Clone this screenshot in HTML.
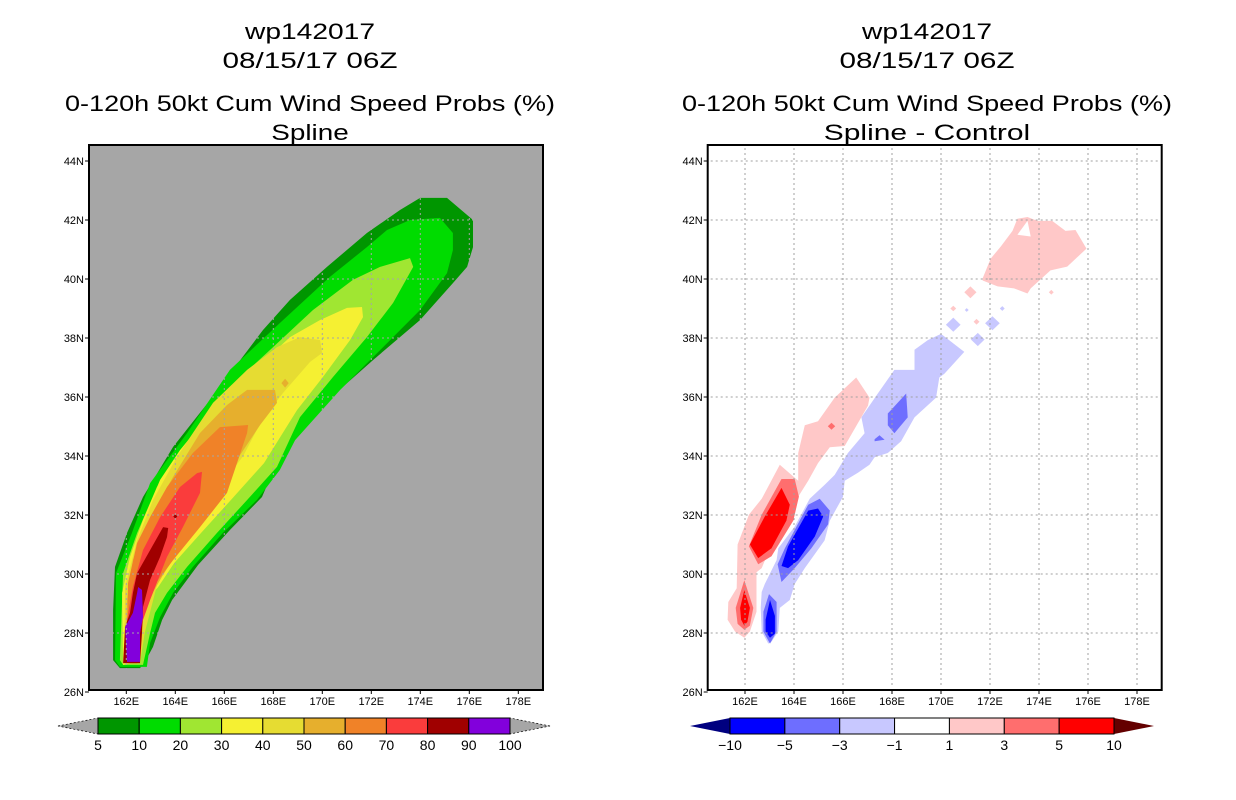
<!DOCTYPE html>
<html><head><meta charset="utf-8"><style>
html,body{margin:0;padding:0;background:#fff;}
svg{display:block;font-family:"Liberation Sans",sans-serif;}
</style></head><body>
<svg id="chart" width="1236" height="800" viewBox="0 0 1236 800"></svg>
<script>
// ---------- data ----------
const latTicks = [26,28,30,32,34,36,38,40,42,44];
const lonTicks = [162,164,166,168,170,172,174,176,178];
const leftLevels = ["5","10","20","30","40","50","60","70","80","90","100"];
const leftColors = ["#009600","#00dc00","#a0e632","#f5f032","#e6dc32","#e6af2d","#f08228","#fa3c3c","#a00000","#8200dc"];
const rightLevels = ["-10","-5","-3","-1","1","3","5","10"];
const rightColors = ["#0000ff","#6e6eff","#c8c8ff","#ffffff","#ffc8c8","#ff6e6e","#ff0000"];
// Left panel contour bands [lon,lat]
const band5 = [[161.74,26.81],[161.46,27.08],[161.46,28.78],[161.54,30.24],[162.03,31.39],[162.68,32.61],[163.91,34.31],[165.42,35.90],[167.58,38.27],[168.68,39.29],[170.19,40.41],[171.82,41.56],[173.17,42.34],[173.99,42.75],[175.09,42.75],[176.15,42.0],[176.15,41.08],[175.91,40.41],[175.33,39.86],[173.99,38.61],[172.07,37.25],[169.91,35.66],[168.48,34.44],[167.54,32.61],[166.23,31.49],[164.93,30.31],[163.87,29.12],[163.46,28.44],[163.09,27.53],[162.76,27.02],[162.56,26.81]];
const band10 = [[161.74,26.85],[161.54,27.08],[161.58,30.03],[162.23,31.39],[162.97,33.08],[164.48,34.78],[166.23,36.92],[168.27,38.51],[170.31,40.07],[171.82,41.08],[172.64,41.66],[173.58,42.0],[174.80,42.07],[175.33,41.56],[175.33,40.98],[175.09,40.20],[173.99,38.95],[172.36,37.59],[170.73,36.24],[168.89,34.54],[168.27,33.53],[167.33,32.51],[165.94,31.39],[164.72,30.24],[163.91,29.36],[163.38,28.54],[162.97,27.66],[162.84,26.85]];
const band20 = [[161.87,26.92],[161.74,27.08],[161.87,30.03],[162.44,31.39],[163.25,32.95],[164.60,34.54],[166.23,36.34],[167.99,37.69],[169.62,38.95],[171.25,39.97],[172.36,40.41],[173.58,40.71],[173.71,40.41],[172.89,39.19],[171.82,38.03],[170.44,36.68],[169.09,35.32],[168.15,33.63],[166.93,32.51],[165.70,31.39],[164.48,30.24],[163.66,29.36],[163.17,28.68],[162.97,28.0],[162.68,26.92]];
const band30 = [[161.87,26.92],[161.83,29.36],[162.15,30.58],[162.68,31.83],[163.38,33.19],[164.19,34.20],[165.29,35.32],[166.93,36.68],[168.68,38.03],[169.91,38.61],[171.01,39.02],[171.62,39.05],[171.66,38.71],[171.13,37.93],[170.03,36.68],[168.97,35.56],[167.62,33.76],[166.27,32.51],[165.05,31.39],[163.95,30.37],[163.30,29.56],[162.60,28.88],[162.48,28.0],[162.27,26.98]];
const band40 = [[161.91,26.98],[161.95,29.56],[162.44,31.15],[163.09,32.51],[164.07,33.97],[165.54,35.80],[166.93,36.92],[168.15,37.69],[169.09,38.03],[169.91,37.93],[169.99,37.49],[169.50,37.19],[168.40,36.14],[167.54,35.22],[166.77,34.0],[165.01,32.03],[163.38,30.03],[162.76,28.03],[162.56,26.98]];
const band50 = [[161.95,26.98],[162.03,29.12],[162.27,30.47],[162.97,31.93],[163.91,33.29],[165.01,34.78],[166.11,35.73],[166.93,36.24],[168.07,36.24],[168.15,35.80],[167.46,35.05],[166.64,34.03],[165.91,32.85],[165.01,31.83],[164.19,30.88],[163.50,29.97],[162.97,29.22],[162.64,28.44],[162.48,26.98]];
const band60 = [[162.03,26.98],[162.07,29.69],[162.44,31.05],[162.97,31.93],[163.66,32.95],[164.72,34.10],[165.82,34.98],[166.97,35.05],[166.93,34.78],[166.11,32.75],[165.01,31.59],[163.91,30.47],[163.09,29.56],[162.56,28.54],[162.44,26.98]];
const band70 = [[162.07,26.98],[162.03,28.44],[162.27,29.56],[162.68,30.81],[163.38,31.93],[164.19,32.95],[164.89,33.42],[165.09,33.46],[165.01,32.75],[164.31,31.59],[163.66,30.58],[162.97,29.12],[162.68,28.44],[162.44,26.98]];
const band80 = [[161.87,26.98],[161.95,28.20],[162.15,28.68],[162.27,29.36],[162.44,30.03],[162.97,30.81],[163.50,31.59],[163.71,31.56],[163.66,31.25],[163.38,30.58],[162.97,29.80],[162.68,28.88],[162.64,28.0],[162.56,26.98]];
const band90 = [[162.48,29.56],[162.64,29.46],[162.68,28.54],[162.56,28.0],[162.56,27.02],[162.03,27.02],[161.95,28.20],[162.27,28.68],[162.44,29.36]];
const leftBands = [band5,band10,band20,band30,band40,band50,band60,band70,band80,band90];
// Right panel (difference) polygons
const pinkMain = [[161.29,28.45],[161.32,29.05],[161.66,29.52],[161.70,31.0],[162.16,32.01],[162.68,32.55],[163.42,33.70],[164.17,33.16],[164.17,34.10],[164.44,35.04],[164.98,35.18],[165.66,35.98],[166.54,36.66],[167.08,35.98],[167.02,35.71],[166.07,34.34],[165.46,34.30],[164.98,33.76],[164.58,33.16],[164.17,32.62],[163.76,32.08],[163.22,31.27],[162.68,30.20],[162.47,30.06],[162.47,28.72],[162.20,28.05],[161.97,27.84],[161.59,28.05]];
const pinkNE = [[171.70,40.02],[172.03,40.69],[172.44,41.10],[172.92,41.63],[173.12,42.04],[173.53,42.10],[173.93,41.97],[174.54,41.97],[175.08,41.63],[175.49,41.66],[175.94,41.03],[175.15,40.42],[174.47,40.29],[173.66,39.68],[173.53,39.51],[172.98,39.68],[172.31,39.75],[171.70,39.95]];
const holeNE = [[173.12,41.5],[173.53,41.97],[173.66,41.44]];
const red3a = [[162.16,30.94],[162.68,32.01],[163.49,33.22],[164.03,33.22],[164.20,32.62],[163.97,31.81],[163.08,30.60],[162.54,30.33]];
const red5a = [[162.20,31.0],[162.81,31.95],[163.49,32.92],[163.83,32.35],[163.69,31.81],[163.08,30.87],[162.54,30.54]];
const red3b = [[161.62,28.85],[161.97,29.79],[162.34,28.85],[162.20,28.25],[161.97,28.11],[161.70,28.31]];
const red5b = [[161.80,28.85],[161.97,29.45],[162.20,28.85],[162.10,28.38],[161.97,28.25],[161.84,28.45]];
const blueLight = [[162.68,29.39],[162.81,29.66],[163.29,30.47],[163.36,30.87],[164.03,31.61],[164.64,32.55],[165.25,33.02],[165.66,33.36],[166.20,34.10],[166.88,34.77],[166.75,35.31],[167.42,36.12],[168.10,36.92],[168.92,36.92],[168.92,37.60],[169.46,37.93],[170.0,38.14],[170.95,37.53],[170.14,36.79],[169.93,36.66],[169.80,35.98],[168.92,35.31],[168.37,34.50],[167.83,34.10],[167.29,33.96],[167.08,33.70],[166.61,33.43],[166.07,33.16],[166.0,32.62],[165.46,31.81],[165.25,31.14],[164.44,30.20],[164.03,29.66],[163.83,29.12],[163.42,28.85],[163.36,28.05],[163.08,27.71],[162.95,27.64],[162.68,28.05],[162.64,28.85]];
const blueMidA = [[163.33,30.33],[163.63,30.87],[164.58,32.35],[165.05,32.55],[165.46,32.15],[165.39,31.68],[164.71,30.87],[164.03,30.20],[163.49,29.73]];
const blueMidB = [[162.75,28.72],[162.98,29.32],[163.29,29.05],[163.29,28.05],[163.02,27.64],[162.75,28.05]];
const blueMidC = [[167.83,35.44],[168.58,36.12],[168.64,35.31],[168.10,34.77],[167.83,35.04]];
const blueMidD = [[167.29,34.57],[167.49,34.70],[167.70,34.55],[167.29,34.50]];
const blueDeepA = [[163.49,30.27],[163.76,30.94],[164.58,32.15],[164.98,32.22],[165.19,31.95],[164.85,31.27],[164.17,30.47],[163.76,30.20]];
const blueDeepB = [[162.84,28.45],[163.02,29.12],[163.22,28.58],[163.22,27.98],[163.02,27.84],[162.84,28.05]];
// small diamonds [lon, lat, halfWidthDeg, level]
const specks = [[170.5,38.45,0.3,"c"],[171.5,37.95,0.28,"c"],[172.1,38.5,0.3,"c"],[172.5,39.0,0.1,"c"],[171.05,38.95,0.08,"c"],[171.45,38.55,0.12,"p"],[170.5,39.0,0.12,"p"],[174.5,39.55,0.1,"p"],[171.2,39.55,0.25,"p"],[165.53,35.01,0.15,"r"]];
const leftSpecks = [[168.48,36.47,0.15,"#e6af2d"],[164.0,31.95,0.08,"#a00000"]];

// ---------- geometry ----------
const NS="http://www.w3.org/2000/svg";
const svg=document.getElementById('chart');
function yOf(lat){return 692-(lat-26)*29.5;}
function xOf(lon,off){return off+126.3+(lon-162)*24.5;}
function mk(tag,attrs,parent){const e=document.createElementNS(NS,tag);for(const k in attrs)e.setAttribute(k,attrs[k]);(parent||svg).appendChild(e);return e;}
function pts(poly,off){return poly.map(p=>xOf(p[0],off).toFixed(1)+','+yOf(p[1]).toFixed(1)).join(' ');}
function txt(s,x,y,size,anchor,parent,len){const t=mk('text',{x:x,y:y,'font-size':size,'text-anchor':anchor||'middle',fill:'#000'},parent);if(len){t.setAttribute('textLength',len);t.setAttribute('lengthAdjust','spacingAndGlyphs');}t.textContent=s;return t;}

function panel(off,name,bg){
  const g=mk('g',{});
  
  
  const r=mk('rect',{x:off+89,y:145,width:454,height:545,fill:bg},g);
  
  
  return g;
}
function grid(g,off,col){
  const gg=mk('g',{stroke:col,'stroke-width':1,'stroke-dasharray':'2,3'},g);
  
  
  lonTicks.forEach(l=>mk('line',{x1:xOf(l,off),x2:xOf(l,off),y1:148,y2:688},gg));
  latTicks.slice(1).forEach(l=>mk('line',{x1:off+92,x2:off+540,y1:yOf(l),y2:yOf(l)},gg));
}
function axes(g,off){
  const f=mk('rect',{x:off+89,y:145,width:454,height:545,fill:'none',stroke:'#000','stroke-width':2},g);
  
  
  latTicks.forEach(l=>{
    mk('line',{x1:off+85,x2:off+89,y1:yOf(l),y2:yOf(l),stroke:'#000'},g);
    const t=txt(l+'N',off+84,yOf(l)+4,11,'end',g);
    
    
  });
  lonTicks.forEach(l=>{
    mk('line',{x1:xOf(l,off),x2:xOf(l,off),y1:690,y2:694,stroke:'#000'},g);
    const t=txt(l+'E',xOf(l,off),705,11,'middle',g);
    
    
  });
}
function titles(cx,sub){
  const a=txt('wp142017',cx,39,22,'middle',null,130);
  
  
  const b=txt('08/15/17 06Z',cx,68,22,'middle',null,175);
  
  
  const c=txt('0-120h 50kt Cum Wind Speed Probs (%)',cx,111,22,'middle',null,490);
  
  
  const d=txt(sub,cx,140,22,'middle',null,sub.length*12.9);
  
  
}

// ---------- left panel ----------
titles(310,'Spline');
const gl=panel(0,'left-probability-map','#a6a6a6');
leftBands.forEach((b,i)=>{
  const p=mk('polygon',{points:pts(b,0),fill:leftColors[i]},gl);
  
  
});
leftSpecks.forEach(s=>{
  const d=[[s[0]-s[2],s[1]],[s[0],s[1]+s[2]],[s[0]+s[2],s[1]],[s[0],s[1]-s[2]]];
  const p=mk('polygon',{points:pts(d,0),fill:s[3]},gl);
  
  
});
grid(gl,0,'#a6a6a6');
axes(gl,0);

// ---------- right panel ----------
titles(927,'Spline - Control');
const OFF=618.7;
const gr=panel(OFF,'right-difference-map','#ffffff');
function rp(poly,col,name){const p=mk('polygon',{points:pts(poly,OFF),fill:col},gr);}
rp(pinkMain,'#ffc8c8','diff-band-pos1');
rp(pinkNE,'#ffc8c8','diff-band-pos1-ne');
rp(holeNE,'#ffffff','diff-hole');
rp(blueLight,'#c8c8ff','diff-band-neg1');
rp(red3a,'#ff6e6e','diff-band-pos3');
rp(red5a,'#ff0000','diff-band-pos5');
rp(red3b,'#ff6e6e','diff-band-pos3-south');
rp(red5b,'#ff0000','diff-band-pos5-south');
rp(blueMidA,'#6e6eff','diff-band-neg3');
rp(blueMidB,'#6e6eff','diff-band-neg3-south');
rp(blueMidC,'#6e6eff','diff-band-neg3-north');
rp(blueMidD,'#6e6eff','diff-band-neg3-speck');
rp(blueDeepA,'#0000ff','diff-band-neg5');
rp(blueDeepB,'#0000ff','diff-band-neg5-south');
const speckCol={c:'#c8c8ff',p:'#ffc8c8',r:'#ff6e6e'};
specks.forEach(s=>{
  const d=[[s[0]-s[2],s[1]],[s[0],s[1]+s[2]*0.8],[s[0]+s[2],s[1]],[s[0],s[1]-s[2]*0.8]];
  rp(d,speckCol[s[3]],'diff-speck');
});
grid(gr,OFF,'#a0a0a0');
axes(gr,OFF);

// ---------- colorbars ----------
function colorbar(x0,x1,levels,colors,leftTri,rightTri,name,dash){
  const g=mk('g',{});
  
  
  const n=colors.length, w=(x1-x0)/n, y0=718, y1=734;
  const t1=mk('polygon',{points:`${x0-40},726 ${x0},${y0} ${x0},${y1}`,fill:leftTri,stroke:dash?'#000':'none','stroke-dasharray':'2,2','stroke-width':0.7},g);
  
  
  const t2=mk('polygon',{points:`${x1+40},726 ${x1},${y0} ${x1},${y1}`,fill:rightTri,stroke:dash?'#000':'none','stroke-dasharray':'2,2','stroke-width':0.7},g);
  
  
  colors.forEach((c,i)=>{
    const r=mk('rect',{x:x0+i*w,y:y0,width:w,height:y1-y0,fill:c,stroke:'#000','stroke-width':1},g);
    
    
  });
  levels.forEach((l,i)=>{
    const t=txt(l.replace('-','\u2212'),x0+i*w,750,14,'middle',g);
    
    
  });
}
colorbar(98,510,leftLevels,leftColors,'#a6a6a6','#a6a6a6','left-colorbar',true);
colorbar(730,1114,rightLevels,rightColors,'#000080','#640000','right-colorbar',false);
</script>
</body></html>
